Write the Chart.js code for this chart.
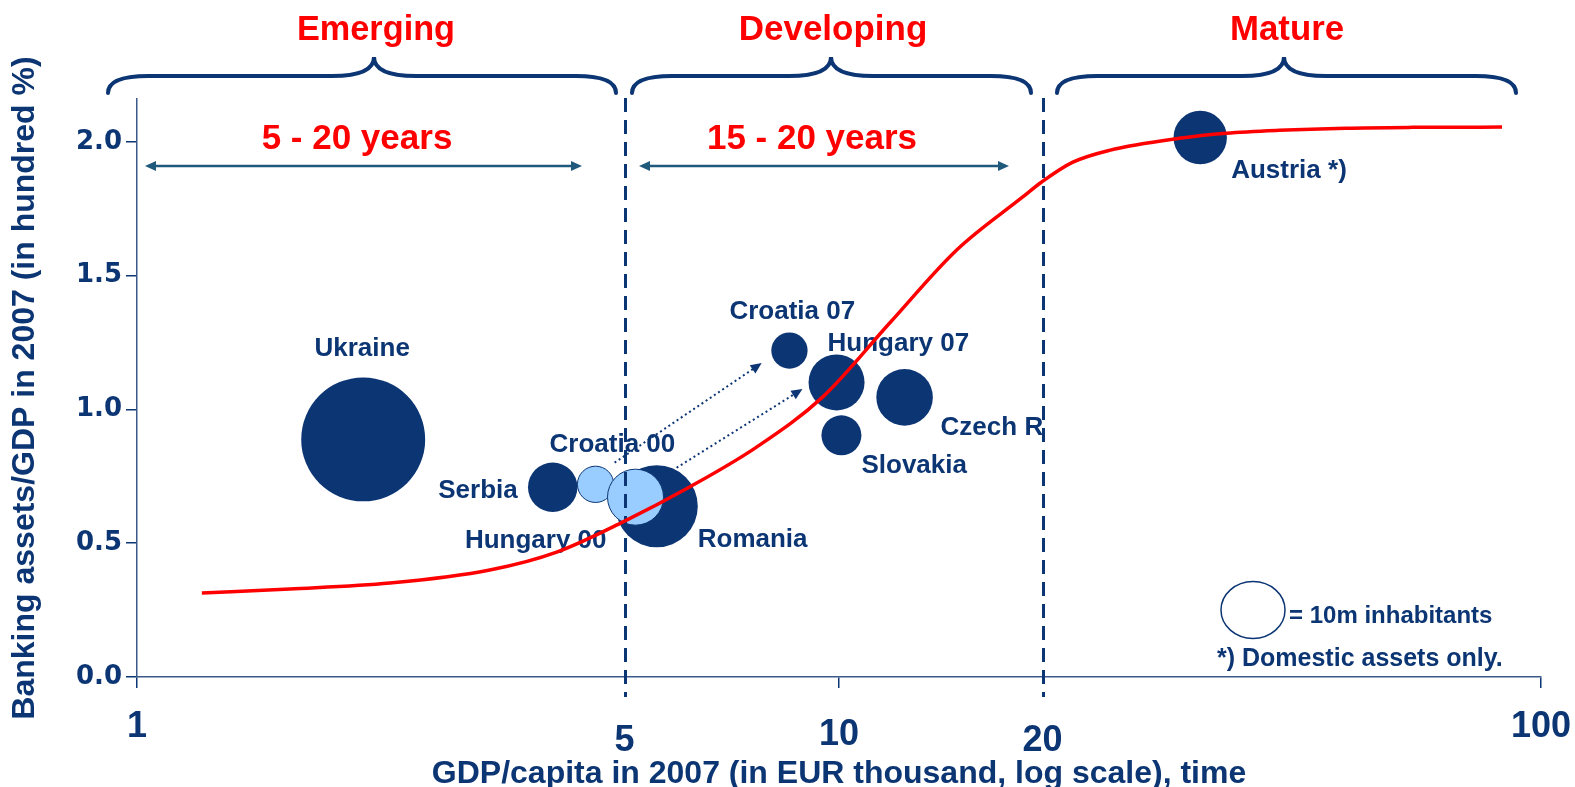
<!DOCTYPE html>
<html>
<head>
<meta charset="utf-8">
<script src="https://cdn.jsdelivr.net/npm/chart.js@4.4.1/dist/chart.umd.min.js"></script>
<style>
  html, body { margin: 0; padding: 0; background: #fff; }
  #wrap { width: 1575px; height: 787px; }
</style>
</head>
<body>
<div id="wrap"><canvas id="chart"></canvas></div>
<script>
// --- data ---
var countries2007 = ['Ukraine', 'Serbia', 'Romania', 'Croatia 07', 'Hungary 07', 'Czech R', 'Slovakia', 'Austria *)'];
var gdp2007       = [2.10, 3.91, 5.50, 8.50, 9.92, 12.40, 10.08, 32.7];
var assets2007    = [0.888, 0.709, 0.638, 1.220, 1.101, 1.045, 0.903, 2.016];
var pop2007       = [49, 7.8, 21.5, 4.2, 10, 10.2, 5.1, 9.1];   // million inhabitants

var countries2000 = ['Croatia 00', 'Hungary 00'];
var gdp2000       = [4.50, 5.13];
var assets2000    = [0.720, 0.672];
var pop2000       = [4.2, 10];

// S-curve (trend)
var curveGdp    = [1.237, 1.651, 2.292, 3.181, 3.962, 4.918, 6.126, 7.631, 9.474, 11.80, 14.70, 18.25, 19.42, 21.50, 24.27, 30.52, 35.61, 42.37, 52.77, 65.53, 88.0];
var curveAssets = [0.314, 0.329, 0.351, 0.400, 0.467, 0.579, 0.710, 0.859, 1.046, 1.322, 1.595, 1.793, 1.849, 1.923, 1.968, 2.013, 2.032, 2.043, 2.051, 2.054, 2.055];

var phaseNames  = ['Emerging', 'Developing', 'Mature'];
var phaseYears  = ['5 - 20 years', '15 - 20 years'];
var phaseBounds = [4.95, 19.5];

var xTickLabels = ['1', '5', '10', '20', '100'];
var xTickAt     = [1, 4.95, 10, 19.5, 100];
var yTicks      = [0, 0.5, 1, 1.5, 2];

// 2000 -> 2007 moves (start / end of dotted arrows)
var moveFromX = [4.79, 5.87], moveFromY = [0.801, 0.782];
var moveToX   = [7.76, 8.87], moveToY   = [1.173, 1.076];

// --- styles ---
var NAVY = '#0c3574', LIGHT = '#99ccff', RED = '#ff0000', TEAL = '#1f5a7d';
var FONT = "'Liberation Sans', Arial, sans-serif";
var BUBBLE_K = 28; // px radius for 10m inhabitants

function radius(p) { return BUBBLE_K * Math.sqrt(p / 10); }

// label offsets from bubble centre (px) and alignment
var labelPlace = {
  'Ukraine':    [-1, -83, 'center'],
  'Serbia':     [-35, 11, 'right'],
  'Romania':    [41, 41, 'left'],
  'Croatia 07': [-60, -32, 'left'],
  'Hungary 07': [-9, -31, 'left'],
  'Czech R':    [36, 38, 'left'],
  'Slovakia':   [20, 38, 'left'],
  'Austria *)': [31, 40, 'left'],
  'Croatia 00': [-46, -32, 'left'],
  'Hungary 00': [-29, 51, 'right']
};

// x tick label baselines (the original staggers them)
var xTickBase = { '1': 737, '5': 751, '10': 745, '20': 751, '100': 737 };

function pts(xs, ys, ps) {
  return xs.map(function (x, i) { return { x: x, y: ys[i], r: ps ? radius(ps[i]) : 0 }; });
}

function txt(ctx, s, x, y, size, color, align, maxW) {
  ctx.save();
  ctx.font = 'bold ' + size + 'px ' + FONT;
  ctx.fillStyle = color;
  ctx.textAlign = align || 'left';
  ctx.textBaseline = 'alphabetic';
  if (maxW) ctx.fillText(s, x, y, maxW); else ctx.fillText(s, x, y);
  ctx.restore();
}

function brace(ctx, l, c, r) {
  var yEnd = 93, yMid = 76, yTip = 57;
  ctx.beginPath();
  ctx.moveTo(l, yEnd);
  ctx.quadraticCurveTo(l, yMid, l + 40, yMid);
  ctx.lineTo(c - 42, yMid);
  ctx.quadraticCurveTo(c, yMid, c, yTip);
  ctx.quadraticCurveTo(c, yMid, c + 42, yMid);
  ctx.lineTo(r - 40, yMid);
  ctx.quadraticCurveTo(r, yMid, r, yEnd);
  ctx.stroke();
}

function head(ctx, x, y, ang, len, half) {
  ctx.beginPath();
  ctx.moveTo(x, y);
  ctx.lineTo(x - len * Math.cos(ang) + half * Math.sin(ang), y - len * Math.sin(ang) - half * Math.cos(ang));
  ctx.lineTo(x - len * Math.cos(ang) - half * Math.sin(ang), y - len * Math.sin(ang) + half * Math.cos(ang));
  ctx.closePath();
  ctx.fill();
}

var decor = {
  id: 'decor',
  // labels + dashed phase lines go under the red curve
  beforeDatasetDraw: function (chart, args) {
    if (args.meta.type !== 'line') return;
    var ctx = chart.ctx, xs = chart.scales.x, ys = chart.scales.y;

    function labelSet(names, gx, gy) {
      names.forEach(function (n, i) {
        var p = labelPlace[n];
        txt(ctx, n, xs.getPixelForValue(gx[i]) + p[0], ys.getPixelForValue(gy[i]) + p[1], 26, NAVY, p[2]);
      });
    }
    labelSet(countries2007, gdp2007, assets2007);
    labelSet(countries2000, gdp2000, assets2000);

    // size legend
    ctx.save();
    ctx.strokeStyle = NAVY; ctx.lineWidth = 1.5;
    ctx.beginPath(); ctx.ellipse(1253, 610, 32, 28.5, 0, 0, Math.PI * 2); ctx.stroke();
    ctx.restore();
    txt(ctx, '= 10m inhabitants', 1289, 623, 24, NAVY, 'left');
    txt(ctx, '*) Domestic assets only.', 1217, 666, 25, NAVY, 'left');

    // dashed phase boundaries
    ctx.save();
    ctx.strokeStyle = NAVY; ctx.lineWidth = 3; ctx.setLineDash([14, 8]);
    phaseBounds.forEach(function (b) {
      var px = Math.round(xs.getPixelForValue(b)) + 0.5;
      ctx.beginPath(); ctx.moveTo(px, 98); ctx.lineTo(px, 697); ctx.stroke();
    });
    ctx.restore();
  },
  afterDraw: function (chart) {
    var ctx = chart.ctx, xs = chart.scales.x, ys = chart.scales.y;

    // x tick labels
    xTickLabels.forEach(function (l, i) {
      txt(ctx, l, xs.getPixelForValue(xTickAt[i]), xTickBase[l], 36, NAVY, 'center');
    });

    // braces + phase names
    ctx.save();
    ctx.strokeStyle = NAVY; ctx.lineWidth = 4; ctx.lineCap = 'round';
    brace(ctx, 108, 374, 616);
    brace(ctx, 632, 831, 1031);
    brace(ctx, 1057, 1284, 1516);
    ctx.restore();
    txt(ctx, phaseNames[0], 376, 40, 35, RED, 'center', 158);
    txt(ctx, phaseNames[1], 833, 40, 35, RED, 'center', 190);
    txt(ctx, phaseNames[2], 1287, 40, 35, RED, 'center', 114);

    // durations with double arrows
    txt(ctx, phaseYears[0], 357, 149, 35, RED, 'center', 191);
    txt(ctx, phaseYears[1], 812, 149, 35, RED, 'center', 211);
    ctx.save();
    ctx.strokeStyle = TEAL; ctx.fillStyle = TEAL; ctx.lineWidth = 2.5;
    [[145, 582], [639, 1009]].forEach(function (a) {
      ctx.beginPath(); ctx.moveTo(a[0] + 6, 166); ctx.lineTo(a[1] - 6, 166); ctx.stroke();
      head(ctx, a[0], 166, Math.PI, 11, 5);
      head(ctx, a[1], 166, 0, 11, 5);
    });
    ctx.restore();

    // dotted arrows 2000 -> 2007
    ctx.save();
    ctx.strokeStyle = NAVY; ctx.fillStyle = NAVY; ctx.lineWidth = 2; ctx.setLineDash([2, 3]);
    moveFromX.forEach(function (fx, i) {
      var x0 = xs.getPixelForValue(fx), y0 = ys.getPixelForValue(moveFromY[i]);
      var x1 = xs.getPixelForValue(moveToX[i]), y1 = ys.getPixelForValue(moveToY[i]);
      var ang = Math.atan2(y1 - y0, x1 - x0);
      ctx.beginPath(); ctx.moveTo(x0, y0);
      ctx.lineTo(x1 - 9 * Math.cos(ang), y1 - 9 * Math.sin(ang)); ctx.stroke();
      head(ctx, x1, y1, ang, 11, 5);
    });
    ctx.restore();
  }
};

new Chart(document.getElementById('chart'), {
  type: 'bubble',
  data: {
    datasets: [
      {
        type: 'line',
        label: 'Trend',
        data: curveGdp.map(function (x, i) { return { x: x, y: curveAssets[i] }; }),
        borderColor: RED,
        borderWidth: 3.5,
        pointRadius: 0,
        fill: false,
        cubicInterpolationMode: 'monotone',
        order: 0
      },
      {
        label: '2000',
        data: pts(gdp2000, assets2000, pop2000),
        backgroundColor: LIGHT,
        borderColor: NAVY,
        borderWidth: 1,
        order: 1
      },
      {
        label: '2007',
        data: pts(gdp2007, assets2007, pop2007),
        backgroundColor: NAVY,
        borderColor: NAVY,
        borderWidth: 0,
        order: 2
      }
    ]
  },
  options: {
    responsive: true,
    maintainAspectRatio: false,
    animation: false,
    layout: { autoPadding: false, padding: { top: 99, right: 34, left: 0, bottom: 0 } },
    plugins: { legend: { display: false }, tooltip: { enabled: false } },
    scales: {
      x: {
        type: 'logarithmic',
        min: 1, max: 100,
        afterBuildTicks: function (s) { s.ticks = [1, 10, 100].map(function (v) { return { value: v }; }); },
        afterFit: function (s) { s.height = 110; s.paddingLeft = 0; s.paddingRight = 0; },
        ticks: { display: false },
        grid: { drawOnChartArea: false, drawTicks: true, tickLength: 11, color: NAVY, lineWidth: 1.5 },
        border: { display: true, color: '#3b5a8a', width: 1.5 },
        title: {
          display: true,
          text: 'GDP/capita in 2007 (in EUR thousand, log scale), time',
          color: NAVY,
          font: { family: FONT, size: 32, weight: 'bold', lineHeight: 1 },
          padding: { top: 0, bottom: -3 }
        }
      },
      y: {
        min: 0, max: 2.16,
        afterBuildTicks: function (s) { s.ticks = yTicks.map(function (v) { return { value: v }; }); },
        afterFit: function (s) { s.width = 137; },
        ticks: {
          callback: function (v) { return Number(v).toFixed(1); },
          color: NAVY,
          padding: 4,
          font: { family: "'DejaVu Sans', sans-serif", size: 26, weight: 'bold' }
        },
        grid: { drawOnChartArea: false, drawTicks: true, tickLength: 11, color: NAVY, lineWidth: 1.5 },
        border: { display: true, color: '#3b5a8a', width: 1.5 },
        title: {
          display: true,
          text: 'Banking assets/GDP in 2007 (in hundred %)',
          color: NAVY,
          font: { family: FONT, size: 32, weight: 'bold', lineHeight: 1 },
          padding: { top: 9, bottom: 0 }
        }
      }
    }
  },
  plugins: [decor]
});
</script>
</body>
</html>
